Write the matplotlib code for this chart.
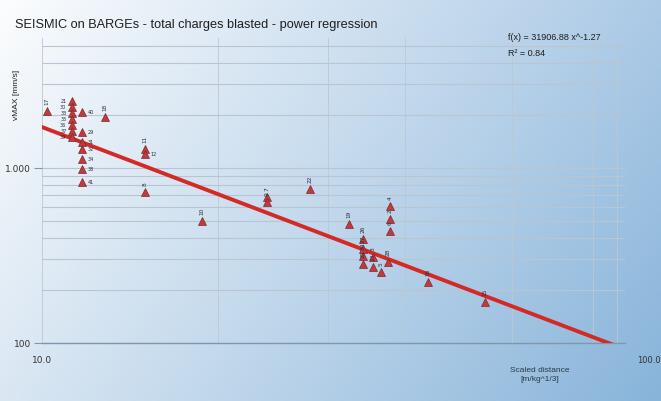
import matplotlib.pyplot as plt
import numpy as np

# scaled distance [m/kg^1/3] and peak particle velocity vMAX [mm/s] per blast
dist = [10.2, 11.26, 11.26, 11.26, 11.26, 11.26, 11.26, 11.26,
        11.71, 11.71, 11.71, 11.71, 11.71, 11.71, 11.71,
        12.82, 15.0, 15.0, 15.0, 18.8, 24.3, 24.3, 28.8, 33.6,
        35.5, 35.5, 35.5, 35.5, 37.0, 37.0, 38.2, 39.2,
        39.5, 39.5, 39.5, 45.9, 57.5]
vmax = [2117, 2415, 2232, 2062, 1905, 1761, 1627, 1504,
        2090, 1606, 1408, 1284, 1126, 987, 832,
        1956, 1284, 1202, 729, 498, 683, 639, 759, 479,
        393, 344, 314, 283, 310, 272, 255, 290,
        606, 511, 437, 223, 172]
shot = ['17', '21', '30', '33', '35', '36', '37', '39',
        '40', '29', '31', '32', '34', '38', '41',
        '18', '11', '12', '8', '10', '7', '9', '22', '19',
        '26', '27', '24', '25', '3', '23', '5', '28',
        '4', '2', '6', '16', '15']

# power regression fitted to the blasts
coef_a = 31906.88
coef_b = -1.27
r2 = 0.84

W, H = 661, 402
fig = plt.figure(figsize=(W / 100, H / 100), dpi=100)

# soft white-to-blue backdrop
bg = fig.add_axes([0, 0, 1, 1], zorder=-1)
tl = np.array([252, 253, 254]) / 255
tr = np.array([172, 202, 230]) / 255
bl = np.array([218, 231, 243]) / 255
br = np.array([136, 180, 218]) / 255
u = np.linspace(0, 1, 200)[None, :, None]
v = np.linspace(0, 1, 120)[:, None, None]
img = (1 - v) * ((1 - u) * tl + u * tr) + v * ((1 - u) * bl + u * br)
bg.imshow(img, aspect='auto', extent=[0, 1, 0, 1], interpolation='bilinear')
bg.axis('off')

ax = fig.add_axes([42 / W, 1 - 344 / H, 583 / W, (344 - 39.4) / H])
ax.patch.set_alpha(0)
ax.set_xscale('log')
ax.set_yscale('log')
ax.set_xlim(10, 100)
ax.set_ylim(100, 5500)

for s in ['top', 'right', 'left']:
    ax.spines[s].set_visible(False)
ax.spines['bottom'].set_color('#7f97ad')
ax.spines['bottom'].set_linewidth(1.0)

ax.set_yticks([100, 1000])
ax.set_yticklabels(['100', '1.000'])
ax.set_yticks([200, 300, 400, 500, 600, 700, 800, 900, 2000, 3000, 4000, 5000], minor=True)
ax.set_xticks([10, 100])
ax.set_xticklabels(['10.0', ''])
ax.set_xticks([20, 31, 42, 64, 88, 97], minor=True)
ax.tick_params(which='minor', length=0, labelleft=False, labelbottom=False)
ax.tick_params(which='major', axis='y', length=6, color='#7f97ad', labelsize=6.5,
               colors='#333333', pad=2)
ax.tick_params(which='major', axis='x', length=0, labelsize=6.5, colors='#333333', pad=9)
ax.yaxis.set_minor_formatter(plt.NullFormatter())
ax.xaxis.set_minor_formatter(plt.NullFormatter())

ax.grid(True, which='both', axis='y', color='#b9c5d0', linewidth=0.8)
ax.grid(True, which='both', axis='x', color='#bcc8d3', linewidth=0.6)

xs = np.geomspace(10, 100, 100)
ax.plot(xs, coef_a * xs ** coef_b, color='#d42a26', linewidth=2.8, zorder=3)

ax.plot(dist, vmax, linestyle='none', marker='^', markersize=5.5,
        markerfacecolor='#c23a3c', markeredgecolor='#7a2a30', markeredgewidth=0.5, zorder=4)

# blast numbers: points stacked in a column get small side labels,
# the rest a rotated label on top
dist_arr = np.array(dist)
vmax_arr = np.array(vmax)
for x, y, s in zip(dist, vmax, shot):
    col = np.isclose(dist_arr, x)
    crowded = col.sum() > 2 and x < 13
    below = np.any(col & (vmax_arr > y) & (vmax_arr < y * 1.12)) and x < 20
    if crowded or below:
        left = x < 11.5
        ax.annotate(s, (x, y), xytext=(-4 if left else 4, 0), textcoords='offset points',
                    ha='right' if left else 'left', va='center', fontsize=3.6,
                    color='#2a2f3a', zorder=5)
    else:
        ax.annotate(s, (x, y), xytext=(0, 5), textcoords='offset points', rotation=90,
                    ha='center', va='bottom', fontsize=4.2, color='#2a2f3a', zorder=5)

fig.text(15 / W, 1 - 25 / H, 'SEISMIC on BARGEs - total charges blasted - power regression',
         fontsize=9.2, color='#1e1e1e', va='center', ha='left', family='Liberation Sans')
fig.text(508 / W, 1 - 38 / H, 'f(x) = %.2f x^%.2f' % (coef_a, coef_b),
         fontsize=6.5, color='#1e1e1e', va='center', ha='left', family='Liberation Sans')
fig.text(508 / W, 1 - 53 / H, 'R² = %.2f' % r2,
         fontsize=6.5, color='#1e1e1e', va='center', ha='left', family='Liberation Sans')
fig.text(16 / W, 1 - 95 / H, 'vMAX [mm/s]', rotation=90, fontsize=6,
         color='#1e1e1e', va='center', ha='center', family='Liberation Sans')
fig.text(540 / W, 1 - 375 / H, 'Scaled distance\n[m/kg^1/3]', fontsize=6,
         color='#2a3a4a', va='center', ha='center', family='Liberation Sans', linespacing=1.3)
fig.text(637 / W, 1 - 361 / H, '100.0', fontsize=6, color='#333333',
         va='center', ha='left')

fig.savefig('out.png', dpi=100)
